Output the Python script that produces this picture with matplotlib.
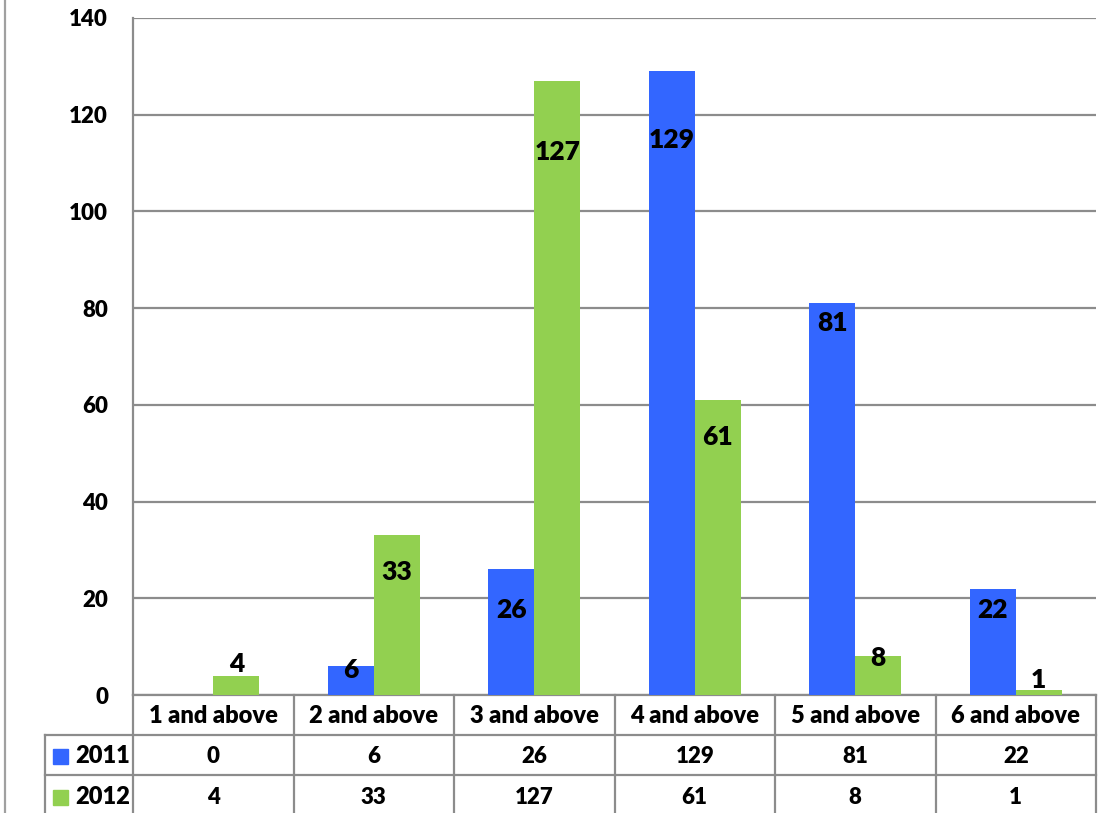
import numpy as np
import matplotlib.pyplot as plt
from matplotlib import transforms
from matplotlib.lines import Line2D
from matplotlib.patches import Rectangle

categories = ['1 and above', '2 and above', '3 and above',
              '4 and above', '5 and above', '6 and above']
series_names = ['2011', '2012']
values_2011 = [0, 6, 26, 129, 81, 22]
values_2012 = [4, 33, 127, 61, 8, 1]
y_ticks = [0, 20, 40, 60, 80, 100, 120, 140]

colors = ['#3366FF', '#92D050']
grid_col = '#8c8c8c'
# how far (pixels) each bar label sits below the top of its bar
label_drop = [[0, 4, 41, 69, 20, 21],
              [-12, 37, 71, 37, 2, -10]]

plt.rcParams['font.family'] = ['Lato', 'DejaVu Sans']
WT = 'heavy'

W, H = 1120, 813
fig = plt.figure(figsize=(W / 100, H / 100), dpi=100)
ax = fig.add_axes([133 / W, 1 - 695 / H, (1096 - 133) / W, (695 - 18) / H])

x = np.arange(len(categories))
bw = 0.287
series = [values_2011, values_2012]
for k, vals in enumerate(series):
    pos = x + (k - 0.5) * bw
    ax.bar(pos, vals, bw, color=colors[k], zorder=3)
    for xi, v, d in zip(pos, vals, label_drop[k]):
        if v == 0:
            continue
        ax.annotate(str(v), (xi, v), xytext=(0, -d), textcoords='offset pixels',
                    ha='center', va='center', fontsize=19, fontweight=WT,
                    zorder=4)

ax.set_xlim(-0.5, len(categories) - 0.5)
ax.set_ylim(0, 140)
ax.set_yticks(y_ticks)
ax.set_xticks([])
ax.yaxis.grid(True, color=grid_col, linewidth=1.6, zorder=0)
ax.tick_params(axis='y', length=0, pad=18, labelsize=16)
for lab in ax.get_yticklabels():
    lab.set_fontweight(WT)
for s in ['top', 'right']:
    ax.spines[s].set_visible(False)
for s in ['left', 'bottom']:
    ax.spines[s].set_color(grid_col)
    ax.spines[s].set_linewidth(1.6)

# data table under the plot
tr = transforms.blended_transform_factory(ax.transData, fig.transFigure)
px = 6 / (1096 - 133)          # data units per pixel
fy = lambda p: 1 - p / H
rows = [695, 735, 775, 815]
leg_left = -0.5 - 88 * px
lkw = dict(color=grid_col, linewidth=1.6, transform=tr, clip_on=False)
for i in range(len(categories) + 1):
    fig.add_artist(Line2D([i - 0.5, i - 0.5], [fy(rows[0]), fy(rows[-1])], **lkw))
fig.add_artist(Line2D([leg_left, leg_left], [fy(rows[1]), fy(rows[-1])], **lkw))
for r in rows[1:3]:
    fig.add_artist(Line2D([leg_left, len(categories) - 0.5], [fy(r), fy(r)], **lkw))

tkw = dict(transform=tr, ha='center', va='center', fontweight=WT)
for i, c in enumerate(categories):
    fig.text(i, fy(716), c, fontsize=17, **tkw)
for k, vals in enumerate(series):
    yc = fy(756) if k == 0 else fy(797)
    for i, v in enumerate(vals):
        fig.text(i, yc, str(v), fontsize=16, **tkw)
    fig.add_artist(Rectangle((leg_left + 8 * px, yc - 7.5 / H), 15 * px, 15 / H,
                             color=colors[k], transform=tr, clip_on=False))
    fig.text(leg_left + 30 * px, yc, series_names[k], transform=tr, ha='left',
             va='center', fontsize=17, fontweight=WT)

# outer chart border on the left
fig.add_artist(Line2D([5 / W, 5 / W], [0, 1], color='#a0a0a0', linewidth=1.6))

fig.savefig('out.png', dpi=100)
